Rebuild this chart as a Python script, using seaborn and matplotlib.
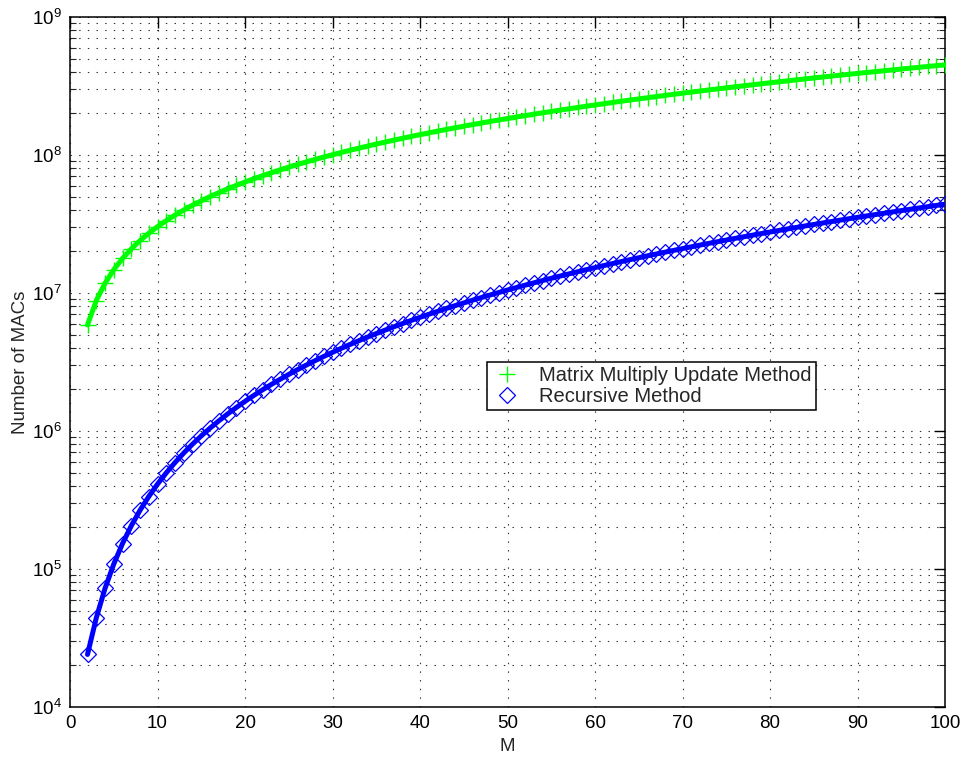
import numpy as np
import pandas as pd
import matplotlib
matplotlib.use("Agg")
import matplotlib.pyplot as plt
import seaborn as sns
from matplotlib.ticker import LogLocator, FixedLocator

# Filter length M
M = list(range(2, 101))

# Multiply-accumulate operations per method (millions / thousands)
matrix_update_mmacs = [
    5.87, 8.80, 11.76, 14.76, 17.79, 20.86, 23.96, 27.09, 30.25,
    33.45, 36.68, 39.94, 43.23, 46.56, 49.92, 53.32, 56.75, 60.21, 63.70,
    67.23, 70.79, 74.38, 78.00, 81.66, 85.35, 89.08, 92.84, 96.63, 100.45,
    104.31, 108.2, 112.12, 116.07, 120.06, 124.08, 128.14, 132.23, 136.35, 140.5,
    144.69, 148.91, 153.16, 157.44, 161.76, 166.11, 170.5, 174.92, 179.37, 183.85,
    188.37, 192.92, 197.5, 202.11, 206.76, 211.44, 216.16, 220.91, 225.69, 230.5,
    235.35, 240.23, 245.14, 250.08, 255.06, 260.07, 265.12, 270.2, 275.31, 280.45,
    285.63, 290.84, 296.08, 301.35, 306.66, 312.0, 317.38, 322.79, 328.23, 333.7,
    339.21, 344.75, 350.32, 355.92, 361.56, 367.23, 372.94, 378.68, 384.45, 390.25,
    396.09, 401.96, 407.86, 413.79, 419.76, 425.76, 431.8, 437.87, 443.97, 450.1,
]
recursive_kmacs = [
    24.03, 44.11, 72.26, 108.5, 152.86, 205.37, 266.05, 334.92, 412.0,
    497.3, 590.9, 692.8, 803.0, 921.5, 1048.4, 1183.7, 1327.3, 1479.4, 1640.0,
    1809.0, 1986.6, 2172.7, 2367.3, 2570.5, 2782.3, 3002.7, 3231.8, 3469.6, 3716.0,
    3971.2, 4235.1, 4507.8, 4789.2, 5079.5, 5378.6, 5686.6, 6003.5, 6329.3, 6664.0,
    7007.7, 7360.4, 7722.0, 8092.7, 8472.5, 8861.3, 9259.3, 9666.4, 10082.6, 10508.0,
    10942.6, 11386.4, 11839.5, 12301.9, 12773.5, 13254.5, 13744.8, 14244.4, 14753.5, 15272.0,
    15799.9, 16337.3, 16884.2, 17440.6, 18006.5, 18582.0, 19167.1, 19761.7, 20366.0, 20980.0,
    21603.6, 22237.0, 22880.1, 23532.9, 24195.5, 24867.9, 25550.1, 26242.2, 26944.2, 27656.0,
    28377.8, 29109.5, 29851.1, 30602.8, 31364.5, 32136.2, 32918.0, 33709.9, 34512.0, 35324.0,
    36146.2, 36978.7, 37821.6, 38674.8, 39538.5, 40410.9, 41294.7, 42188.8, 43093.2, 44008.0,
]
series_labels = ["Matrix Multiply Update Method", "Recursive Method"]

df = pd.DataFrame({
    "M": M,
    "matrix": np.array(matrix_update_mmacs) * 1e6,
    "recursive": np.array(recursive_kmacs) * 1e3,
})

sns.set_style("white")
plt.rcParams["font.family"] = ["Liberation Sans", "DejaVu Sans"]
plt.rcParams["mathtext.fontset"] = "custom"
plt.rcParams["mathtext.rm"] = "Liberation Sans"
plt.rcParams["mathtext.it"] = "Liberation Sans:italic"
plt.rcParams["mathtext.default"] = "regular"

fig = plt.figure(figsize=(9.65, 7.6), dpi=100)
ax = fig.add_axes([70 / 965, 53 / 760, 875 / 965, 690 / 760])

green = "#00ff00"
blue = "#0000ff"

# thick curves
sns.lineplot(data=df, x="M", y="matrix", ax=ax, color=green, linewidth=3.6,
             legend=False, zorder=3)
sns.lineplot(data=df, x="M", y="recursive", ax=ax, color=blue, linewidth=3.6,
             legend=False, zorder=3)
# markers on every sample
sns.lineplot(data=df, x="M", y="matrix", ax=ax, color=green, linestyle="none",
             marker="+", markersize=11, markeredgewidth=1.0,
             markeredgecolor=green, label=series_labels[0], zorder=4)
sns.lineplot(data=df, x="M", y="recursive", ax=ax, color=blue, linestyle="none",
             marker="D", markersize=8, markerfacecolor="none",
             markeredgecolor=blue, markeredgewidth=0.9,
             label=series_labels[1], zorder=4)

ax.set_yscale("log")
ax.set_xlim(0, 100)
ax.set_ylim(1e4, 1e9)
ax.xaxis.set_major_locator(FixedLocator(np.arange(0, 101, 10)))
ax.yaxis.set_major_locator(LogLocator(base=10, numticks=10))
ax.yaxis.set_minor_locator(LogLocator(base=10, subs=np.arange(2, 10), numticks=20))

dot = (0, (1.3, 6.5))
ax.grid(True, which="major", axis="both", color="black", linestyle=dot,
        linewidth=0.8, alpha=0.8)
ax.grid(True, which="minor", axis="y", color="black", linestyle=dot,
        linewidth=0.8, alpha=0.8)
ax.set_axisbelow(True)

ax.tick_params(axis="both", which="major", direction="in", length=8, width=1,
               top=True, right=True, labelsize=13.5, pad=6, colors="black")
ax.tick_params(axis="y", which="minor", direction="in", length=4, width=0.8,
               left=True, right=True)
for s in ax.spines.values():
    s.set_color("black")
    s.set_linewidth(1.1)

ax.set_xlabel("M", fontsize=13.5, labelpad=4)
ax.set_ylabel("Number of MACs", fontsize=13.5, labelpad=2)

leg = ax.legend(loc="upper left", bbox_to_anchor=(417 / 875, 345 / 690),
                borderaxespad=0, fontsize=14.5, frameon=True, fancybox=False,
                edgecolor="black", framealpha=1, handlelength=1.6,
                handletextpad=0.8, borderpad=0.2, labelspacing=0.12,
                numpoints=1)
leg.get_frame().set_linewidth(1.1)

fig.savefig("out.png", dpi=100, facecolor="white")
